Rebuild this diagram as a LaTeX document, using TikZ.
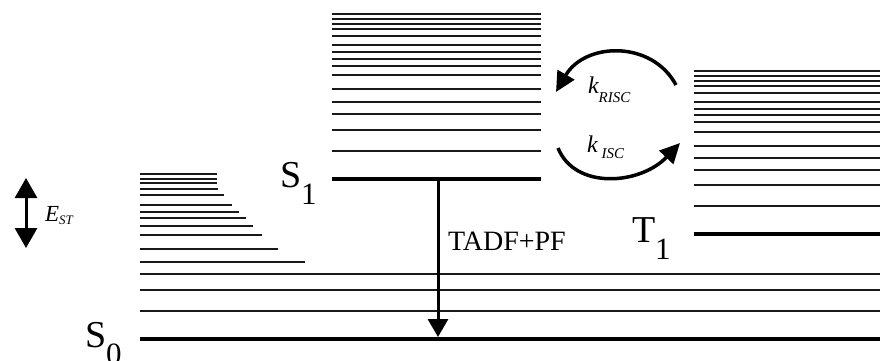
\documentclass[tikz,border=0pt]{standalone}
\usepackage{fontspec}
\setmainfont{Liberation Serif}
\usetikzlibrary{arrows.meta}
\tikzset{
  vib/.style={line width=2pt, black!90},
  level/.style={line width=4.5pt, black},
  bigarrow/.style={line width=3pt, -{Triangle[length=18pt,width=20pt]}},
  dblarrow/.style={line width=3pt, {Triangle[length=20pt,width=22pt]}-{Triangle[length=20pt,width=22pt]}},
  curvearrow/.style={line width=3.5pt, -{Triangle[length=20pt,width=19pt]}},
  lbl/.style={inner sep=0pt, outer sep=0pt, anchor=base west},
}
\newcommand{\statelabel}[2]{{\fontsize{38}{40}\selectfont #1}\raisebox{-17pt}{\fontsize{31}{31}\selectfont #2}}
\newcommand{\ratelabel}[3]{{\fontsize{24}{24}\selectfont\itshape k}\hspace{#3}\raisebox{#2}{\fontsize{15}{15}\selectfont\itshape #1}}
\begin{document}
\begin{tikzpicture}[x=1pt,y=-1pt]
\useasboundingbox (0,0) rectangle (880,360);
% ---- S0 vibrational ladder (tapering) ----
\foreach \y/\xe in {174/217, 179.3/217, 183.3/217, 188.7/218, 194.7/224, 205/232, 212/239, 218.3/246, 225.7/253, 235.3/262, 249.3/278, 262/305, 274/880, 289.7/880, 311/880}
  \draw[vib] (140,\y) -- (\xe,\y);
% ---- S1 vibrational ladder ----
\foreach \d in {165, 160, 155.5, 150.3, 143.5, 134, 127, 120.5, 113.3, 103.7, 89.7, 77, 65, 49.3, 28}
  \draw[vib] (332,179-\d) -- (541,179-\d);
% ---- T1 vibrational ladder ----
\foreach \d in {165, 160, 155.5, 150.3, 143.5, 134, 127, 120.5, 113.3, 103.7, 89.7, 77, 65, 49.3, 28}
  \draw[vib] (694,234-0.985*\d) -- (880,234-0.985*\d);
% ---- electronic levels ----
\coordinate (S0a) at (140,339); \coordinate (S0b) at (880,339);
\coordinate (S1a) at (332,179); \coordinate (S1b) at (541,179);
\coordinate (T1a) at (694,234); \coordinate (T1b) at (880,234);
\draw[level] (S0a) -- (S0b);
\draw[level] (S1a) -- (S1b);
\draw[level] (T1a) -- (T1b);
% ---- labels ----
\node[lbl] (S1lab) at (280,187) {\statelabel{S}{1}};
\node[lbl] (S0lab) at (85,347) {\statelabel{S}{0}};
\node[lbl] (T1lab) at (632,242) {\statelabel{T}{1}};
\node[lbl, font=\fontsize{28}{30}\selectfont] (tadf) at (448,250) {TADF+PF};
\node[lbl] (est) at (45,221) {{\fontsize{23}{23}\selectfont\itshape E}\raisebox{-3pt}{\fontsize{13}{13}\selectfont\itshape ST}};
\node[lbl] (krisc) at (588,93) {\ratelabel{RISC}{-9pt}{0pt}};
\node[lbl] (kisc) at (587,152) {\ratelabel{ISC}{-6pt}{4pt}};
% ---- emission arrow ----
\coordinate (emTop) at (438,179);
\coordinate (emBot) at (438,337);
\draw[bigarrow] (emTop) -- (emBot);
% ---- E_ST double arrow ----
\coordinate (estTop) at (26,178);
\coordinate (estBot) at (26,248);
\draw[dblarrow] (estTop) -- (estBot);
% ---- RISC / ISC curved arrows ----
\coordinate (riscS) at (676,85);
\coordinate (riscE) at (556,92);
\draw[curvearrow] (riscS) .. controls (652,40) and (585,42) .. (riscE);
\coordinate (iscS) at (558,148);
\coordinate (iscE) at (680,143);
\draw[curvearrow] (iscS) .. controls (575,190) and (640,185) .. (iscE);
\end{tikzpicture}
\end{document}
